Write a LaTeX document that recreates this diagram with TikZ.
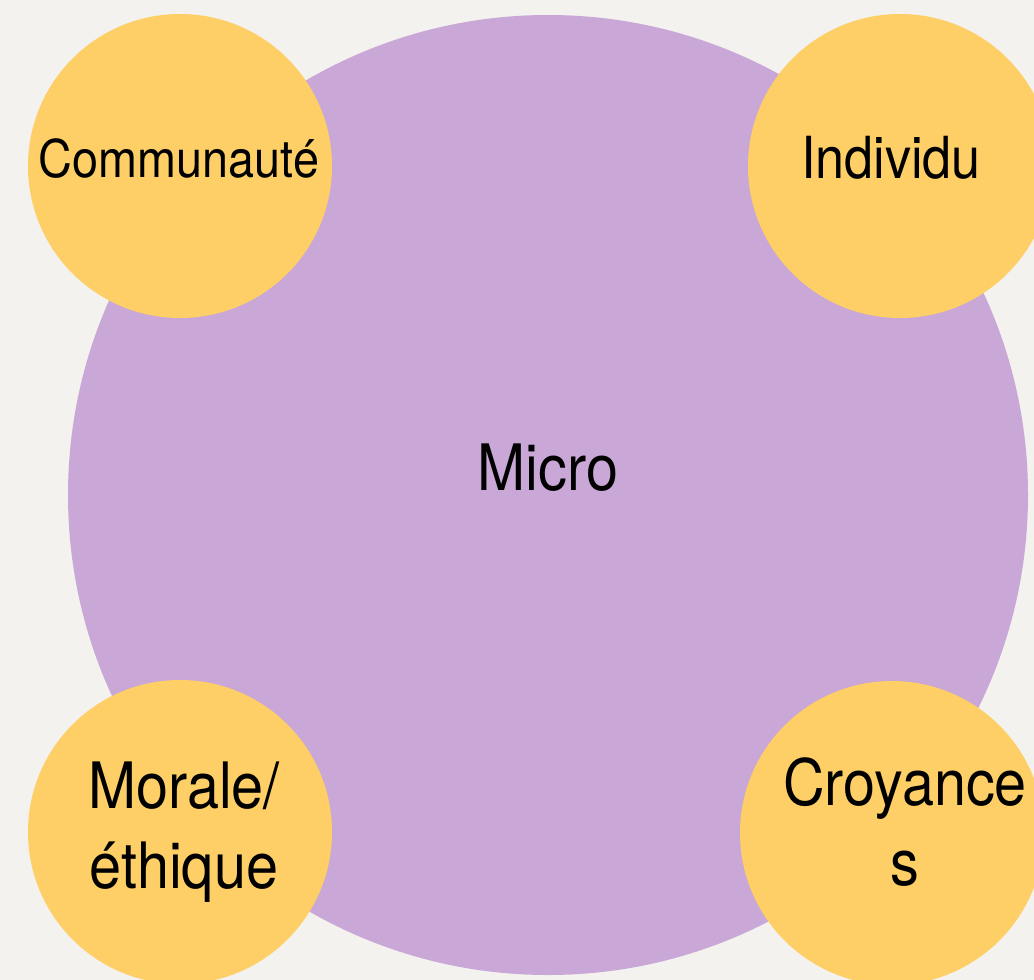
\documentclass[tikz,border=0pt]{standalone}
\usepackage{fontspec}
\setmainfont{TeX Gyre Heros}[FakeStretch=0.9]
\definecolor{paper}{HTML}{F3F2EE}
\definecolor{lilac}{HTML}{C9A7D6}
\definecolor{mustard}{HTML}{FDCF66}

\begin{document}
\begin{tikzpicture}[x=1pt, y=-1pt,
  disc/.style={circle, inner sep=0pt, minimum size=#1},
  word/.style={anchor=base, inner sep=0pt, text=black, align=center}]
  \fill[paper] (0,0) rectangle (1034,980);
  \clip (0,0) rectangle (1034,980);
  % big disc and the four small ones
  \node[disc=960pt, fill=lilac] (micro) at (548,495) {};
  \node[disc=304pt, fill=mustard] (comm) at (180,166) {};
  \node[disc=304pt, fill=mustard] (indiv) at (900,166) {};
  \node[disc=304pt, fill=mustard] (morale) at (180,832) {};
  \node[disc=304pt, fill=mustard] (croy) at (892,833) {};
  % labels (base = last line)
  \node[word, font=\fontsize{64}{80}\selectfont] (microtxt) at (548,490) {Micro};
  \node[word, font=\fontsize{52}{64}\selectfont] (commtxt) at (179,177) {Communauté};
  \node[word, font=\fontsize{58}{72}\selectfont] (indivtxt) at (891,178) {Individu};
  \node[word, font=\fontsize{64}{80}\selectfont] (moraletxt) at (184,888) {Morale/\\éthique};
  \node[word, font=\fontsize{64}{80}\selectfont] (croytxt) at (905,885) {Croyance\\s};
\end{tikzpicture}
\end{document}
